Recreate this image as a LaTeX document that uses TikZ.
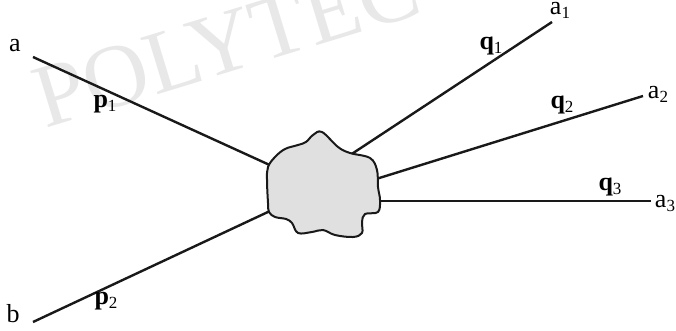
\documentclass[tikz,border=0pt]{standalone}
\usepackage{fontspec}
\setmainfont{Liberation Serif}
\newcommand{\lbl}[2]{#1\raisebox{-4pt}{\mdseries\fontsize{17}{17}\selectfont #2}}
\begin{document}
\begin{tikzpicture}[x=1pt,y=-1pt,
  leg/.style={line width=2.4pt,black!90},
  lab/.style={inner sep=0pt,font=\fontsize{26}{26}\selectfont},
  mom/.style={inner sep=0pt,font=\fontsize{26}{26}\selectfont\bfseries},
  blobstyle/.style={fill=black!12,draw=black!90,line width=2pt}]
\useasboundingbox (0,0) rectangle (676,331);
% watermark
\node[anchor=base west,rotate=17,text=black!9,inner sep=0pt,font=\fontsize{90}{90}\selectfont] (wm) at (-50,158) {E\hspace{0.5em}POLYTEC};
% endpoints
\coordinate (ea) at (33,57);
\coordinate (eb) at (33,322);
\coordinate (e1) at (552,22);
\coordinate (e2) at (643,96);
\coordinate (e3) at (651,201);
% attachment points inside blob
\coordinate (ca) at (285,172);
\coordinate (cb) at (285,204);
\coordinate (c1) at (335,165);
\coordinate (c2) at (360,184);
\coordinate (c3) at (360,201);
\draw[leg] (ea) -- (ca);
\draw[leg] (eb) -- (cb);
\draw[leg] (c1) -- (e1);
\draw[leg] (c2) -- (e2);
\draw[leg] (c3) -- (e3);
% blob
\draw[blobstyle] plot[smooth cycle,tension=0.6] coordinates {
 (322,132) (338,147) (350,153) (370,158) (377,170) (378,187) (380,200)
 (378,212) (365,214) (362,222) (362,233) (353,237) (335,235) (323,230)
 (312,232) (298,233) (292,223) (286,219) (275,217) (269,212) (268,203)
 (267,180) (268,167) (275,157) (285,149) (298,145) (306,142) (313,135)};
% labels
\node[lab] (la) at (15,46) {a};
\node[lab] (lb) at (13,314) {b};
\node[mom] (p1) at (105,104) {\lbl{p}{1}};
\node[mom] (p2) at (106,301) {\lbl{p}{2}};
\node[mom] (q1) at (491,46) {\lbl{q}{1}};
\node[mom] (q2) at (562,105) {\lbl{q}{2}};
\node[mom] (q3) at (610,187) {\lbl{q}{3}};
\node[lab] (a1) at (560,10) {\lbl{a}{1}};
\node[lab] (a2) at (658,94) {\lbl{a}{2}};
\node[lab] (a3) at (665,203) {\lbl{a}{3}};
\end{tikzpicture}
\end{document}
